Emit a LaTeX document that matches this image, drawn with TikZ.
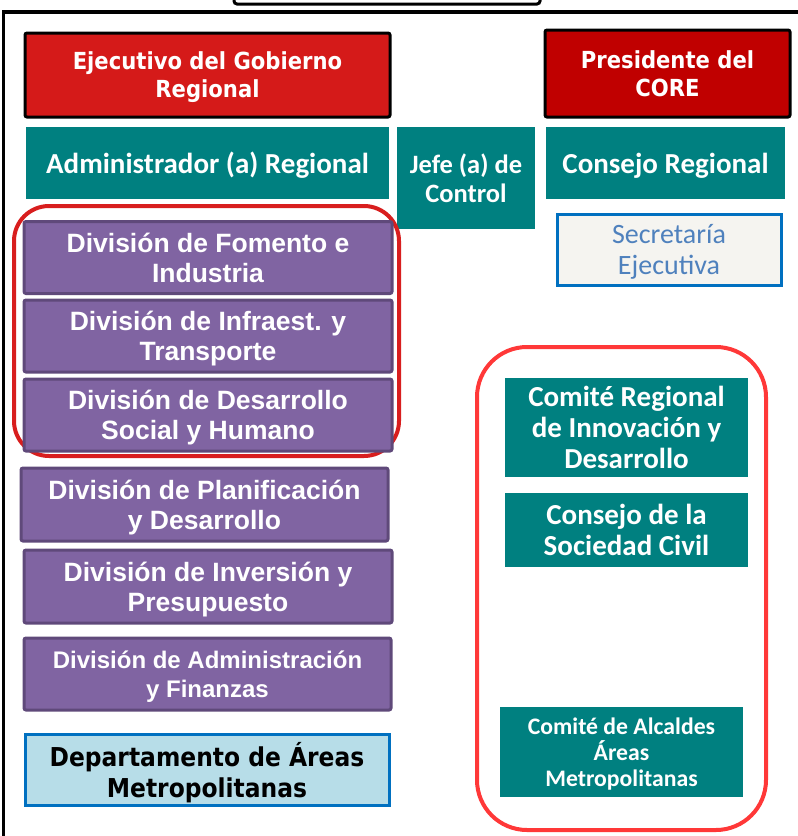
\documentclass[tikz,border=0pt]{standalone}
\usepackage{fontspec}
\newfontfamily\tahomab[FakeStretch=0.9]{DejaVu Sans Bold}
\newfontfamily\calibri{Carlito}
\newfontfamily\arial{Liberation Sans}
\definecolor{gorered}{HTML}{D51A19}
\definecolor{corered}{HTML}{C00000}
\definecolor{govteal}{HTML}{008080}
\definecolor{divpurple}{HTML}{8064A2}
\definecolor{divedge}{HTML}{5F497A}
\definecolor{deptfill}{HTML}{B7DDE8}
\definecolor{deptedge}{HTML}{0070C0}
\definecolor{secfill}{HTML}{F5F4F0}
\definecolor{sectext}{HTML}{4F81BD}
\definecolor{groupa}{HTML}{D81E1E}
\definecolor{groupb}{HTML}{FF3838}
\tikzset{
  box/.style={rectangle,inner sep=0pt,align=center,text=white,text depth=0pt},
  headbox/.style={box,draw=black,line width=3pt,rounded corners=2pt,
    font=\tahomab\fontsize{23.5}{28}\selectfont},
  tealbox/.style={box,fill=govteal,font=\calibri\bfseries\fontsize{29}{31}\selectfont},
  divbox/.style={box,fill=divpurple,draw=divedge,line width=3pt,rounded corners=2pt,
    minimum width=368pt,minimum height=72pt,
    font=\arial\bfseries\fontsize{26.5}{30}\selectfont},
  groupbox/.style={line width=4pt}
}
\begin{document}
\begin{tikzpicture}[x=1pt,y=-1pt]
\useasboundingbox (0,0) rectangle (798,836);
\draw[line width=3.5pt] (3.5,836) -- (3.5,12) -- (798,12);
\draw[line width=3pt,rounded corners=3pt] (234,-10) rectangle (540,4);
\node[headbox,fill=gorered,minimum width=365pt,minimum height=84pt] (ejecutivo) at (207.5,75) {Ejecutivo del Gobierno\\Regional};
\node[headbox,fill=corered,minimum width=245pt,minimum height=87pt] (presidente) at (667.5,73.5) {Presidente del\\CORE};
\node[tealbox,minimum width=363pt,minimum height=72pt] (admin) at (207.5,163) {Administrador (a) Regional};
\node[tealbox,minimum width=138pt,minimum height=102pt,font=\calibri\bfseries\fontsize{26.5}{29}\selectfont] (jefe) at (466,178) {Jefe (a) de\\Control};
\node[tealbox,minimum width=239pt,minimum height=72pt] (consejo) at (665.5,163) {Consejo Regional};
\node[box,fill=secfill,draw=deptedge,line width=3pt,text=sectext,minimum width=224pt,minimum height=71pt,font=\calibri\fontsize{28}{31}\selectfont] (secretaria) at (669,249.5) {Secretaría\\Ejecutiva};
\draw[groupbox,draw=groupa,rounded corners=35pt] (14,206) rectangle (399,456);
\node[divbox] (fomento) at (208,257.5) {División de Fomento e\\Industria};
\node[divbox] (infra) at (208,336) {División de Infraest. y\\Transporte};
\node[divbox] (social) at (208,415) {División de Desarrollo\\Social y Humano};
\node[divbox,minimum width=367pt,minimum height=73pt] (planif) at (204.5,504.5) {División de Planificación\\y Desarrollo};
\node[divbox,minimum height=73pt] (inversion) at (208,586.5) {División de Inversión y\\Presupuesto};
\node[divbox,minimum width=367pt,font=\arial\bfseries\fontsize{24}{29}\selectfont] (adminfin) at (207.5,674) {División de Administración\\y Finanzas};
\node[box,fill=deptfill,draw=deptedge,line width=3pt,text=black,minimum width=364pt,minimum height=71pt,font=\tahomab\fontsize{26}{31}\selectfont] (depto) at (207,769.5) {Departamento de Áreas\\Metropolitanas};
\draw[groupbox,draw=groupb,rounded corners=50pt] (477,347) rectangle (766,830);
\node[tealbox,minimum width=243pt,minimum height=99pt] (innovacion) at (626.5,427.5) {Comité Regional\\de Innovación y\\Desarrollo};
\node[tealbox,minimum width=243pt,minimum height=74pt] (sociedad) at (626.5,530) {Consejo de la\\Sociedad Civil};
\node[tealbox,minimum width=243pt,minimum height=90pt,font=\calibri\bfseries\fontsize{23.7}{26}\selectfont] (alcaldes) at (621.5,752) {Comité de Alcaldes\\Áreas\\Metropolitanas};
\end{tikzpicture}
\end{document}
